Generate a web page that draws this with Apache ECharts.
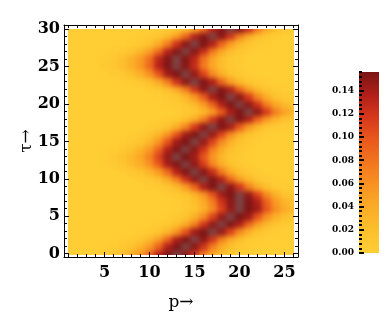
<!DOCTYPE html>
<html><head><meta charset="utf-8">
<script src="https://cdn.jsdelivr.net/npm/echarts@6/dist/echarts.min.js"></script>
<style>
html,body{margin:0;padding:0;background:#fff}
#wrap{position:relative;width:385px;height:316px}
#heat,#c{position:absolute;left:0;top:0;width:385px;height:316px}
#heat{filter:blur(2.6px);background:#FFCE35}
</style>
</head><body><div id="wrap"><div id="heat"></div><div id="c"></div></div>
<script>
// ---- data ----
const pValues = [1,2,3,4,5,6,7,8,9,10,11,12,13,14,15,16,17,18,19,20,21,22,23,24,25,26];
const tauValues = [0,1,2,3,4,5,6,7,8,9,10,11,12,13,14,15,16,17,18,19,20,21,22,23,24,25,26,27,28,29,30];
// density[i][j] : value at tau = tauValues[i], p = pValues[j]
const density = [
 [.002,.002,.002,.002,.005,.012,.023,.037,.057,.091,.136,.154,.160,.149,.120,.072,.040,.019,.009,.004,.002,.002,.002,.002,.002,.002],
 [.002,.002,.002,.002,.002,.004,.009,.017,.032,.054,.091,.136,.154,.160,.149,.120,.072,.040,.019,.009,.004,.002,.002,.002,.002,.002],
 [.002,.002,.002,.002,.002,.002,.003,.006,.012,.026,.051,.090,.136,.154,.160,.149,.120,.072,.040,.019,.009,.004,.002,.002,.002,.002],
 [.002,.002,.002,.002,.002,.002,.002,.002,.003,.007,.014,.030,.057,.100,.142,.155,.160,.146,.110,.064,.035,.016,.008,.003,.002,.002],
 [.002,.002,.002,.002,.002,.002,.002,.002,.002,.002,.004,.009,.019,.040,.072,.120,.149,.160,.154,.136,.090,.051,.026,.012,.006,.003],
 [.002,.002,.002,.002,.002,.002,.002,.002,.002,.002,.002,.003,.008,.016,.035,.064,.110,.146,.160,.155,.142,.100,.059,.035,.020,.009],
 [.002,.002,.002,.002,.002,.002,.002,.002,.002,.002,.002,.002,.003,.008,.016,.035,.064,.110,.146,.160,.155,.142,.100,.062,.040,.026],
 [.002,.002,.002,.002,.002,.002,.002,.002,.002,.002,.002,.002,.004,.009,.019,.040,.072,.120,.149,.160,.154,.136,.091,.054,.032,.017],
 [.002,.002,.002,.002,.002,.002,.002,.002,.002,.002,.002,.003,.007,.014,.030,.057,.100,.142,.155,.160,.146,.110,.064,.035,.016,.008],
 [.002,.002,.002,.002,.002,.002,.002,.002,.002,.003,.006,.012,.026,.051,.090,.136,.154,.160,.149,.120,.072,.040,.019,.009,.004,.002],
 [.002,.002,.002,.002,.002,.002,.002,.002,.004,.009,.019,.040,.072,.120,.149,.160,.154,.136,.090,.051,.026,.012,.006,.003,.002,.002],
 [.002,.002,.002,.002,.002,.002,.003,.008,.016,.030,.051,.086,.133,.153,.160,.151,.125,.076,.042,.021,.010,.005,.002,.002,.002,.002],
 [.002,.002,.002,.002,.003,.006,.012,.024,.039,.060,.096,.139,.154,.160,.148,.115,.068,.037,.017,.008,.004,.002,.002,.002,.002,.002],
 [.002,.002,.002,.002,.003,.008,.015,.028,.044,.068,.110,.146,.160,.155,.142,.100,.057,.030,.014,.007,.003,.002,.002,.002,.002,.002],
 [.002,.002,.002,.002,.002,.004,.009,.017,.032,.054,.091,.136,.154,.160,.149,.120,.072,.040,.019,.009,.004,.002,.002,.002,.002,.002],
 [.002,.002,.002,.002,.002,.002,.003,.007,.014,.030,.057,.100,.142,.155,.160,.146,.110,.064,.035,.016,.008,.003,.002,.002,.002,.002],
 [.002,.002,.002,.002,.002,.002,.002,.003,.007,.014,.030,.057,.100,.142,.155,.160,.146,.110,.064,.035,.016,.008,.003,.002,.002,.002],
 [.002,.002,.002,.002,.002,.002,.002,.002,.002,.004,.009,.018,.037,.068,.115,.148,.160,.154,.139,.095,.054,.028,.013,.007,.003,.002],
 [.002,.002,.002,.002,.002,.002,.002,.002,.002,.002,.002,.004,.009,.019,.040,.072,.120,.149,.160,.154,.136,.091,.054,.032,.017,.009],
 [.002,.002,.002,.002,.002,.002,.002,.002,.002,.002,.002,.002,.003,.007,.013,.028,.054,.095,.139,.154,.160,.148,.115,.072,.046,.030],
 [.002,.002,.002,.002,.002,.002,.002,.002,.002,.002,.002,.003,.006,.012,.026,.051,.090,.136,.154,.160,.149,.120,.073,.044,.025,.013],
 [.002,.002,.002,.002,.002,.002,.002,.002,.002,.002,.003,.007,.013,.028,.054,.095,.139,.154,.160,.148,.115,.068,.037,.017,.008,.004],
 [.002,.002,.002,.002,.002,.002,.002,.002,.002,.004,.009,.019,.040,.072,.120,.149,.160,.154,.136,.090,.051,.026,.012,.006,.003,.002],
 [.002,.002,.002,.002,.002,.002,.002,.004,.009,.019,.040,.072,.120,.149,.160,.154,.136,.090,.051,.026,.012,.006,.003,.002,.002,.002],
 [.002,.002,.002,.002,.002,.005,.009,.020,.035,.059,.100,.142,.155,.160,.146,.110,.064,.035,.016,.008,.003,.002,.002,.002,.002,.002],
 [.002,.002,.002,.002,.005,.011,.021,.036,.055,.087,.133,.153,.160,.151,.125,.076,.042,.021,.010,.005,.002,.002,.002,.002,.002,.002],
 [.002,.002,.002,.002,.004,.010,.020,.034,.052,.082,.130,.152,.160,.152,.130,.080,.045,.022,.010,.005,.002,.002,.002,.002,.002,.002],
 [.002,.002,.002,.002,.002,.004,.008,.016,.030,.051,.086,.133,.153,.160,.151,.125,.076,.042,.021,.010,.005,.002,.002,.002,.002,.002],
 [.002,.002,.002,.002,.002,.002,.002,.004,.009,.019,.040,.072,.120,.149,.160,.154,.136,.090,.051,.026,.012,.006,.003,.002,.002,.002],
 [.002,.002,.002,.002,.002,.002,.002,.002,.003,.006,.012,.026,.051,.090,.136,.154,.160,.149,.120,.072,.040,.019,.009,.004,.002,.002],
 [.002,.002,.002,.002,.002,.002,.002,.002,.002,.002,.003,.006,.011,.024,.048,.085,.133,.153,.160,.151,.125,.076,.042,.021,.010,.005]
];
const xTickLabels = [5,10,15,20,25];
const xMinorTicks = [1,2,3,4,6,7,8,9,11,12,13,14,16,17,18,19,21,22,23,24,26];
const yTickLabels = [0,5,10,15,20,25,30];
const yMinorTicks = [1,2,3,4,6,7,8,9,11,12,13,14,16,17,18,19,21,22,23,24,26,27,28,29];
const barTickLabels = [0,0.02,0.04,0.06,0.08,0.10,0.12,0.14];
const barMax = 0.156;
const xName = 'p→';
const yName = 'τ→';

// ---- build ----
const cells = [];
tauValues.forEach((t, i) => pValues.forEach((p, j) => cells.push([p, t, density[i][j]])));
const P_LO = Math.min(...pValues), P_HI = Math.max(...pValues);
const T_LO = Math.min(...tauValues), T_HI = Math.max(...tauValues);
const barMinor = [];
for (let k = 0; k * 0.004 <= barMax + 1e-9; k++) barMinor.push(+(k * 0.004).toFixed(3));

const SERIF = 'DejaVu Serif';
const black = '#000';
const GRID_MAIN = {left: 64, top: 25, width: 234, height: 233};
const GRID_BAR = {left: 359, top: 72, width: 20, height: 181};
const X_RANGE = {min: 0.5, max: 26.5};
const Y_RANGE = {min: -0.45, max: 30.55};
const colorStops = ['#FFCE35','#FDC02D','#FBAC27','#F89322','#F2761E','#E9581C','#D6381C','#B01F19','#7A1414'];
const saturatedColor = '#7f4242';

// ---- layer 1: density cells (softened like the interpolated original) ----
const heat = echarts.init(document.getElementById('heat'), null, {renderer: 'canvas'});
heat.setOption({
  animation: false,
  grid: Object.assign({}, GRID_MAIN),
  xAxis: Object.assign({type: 'value', show: false}, X_RANGE),
  yAxis: Object.assign({type: 'value', show: false}, Y_RANGE),
  visualMap: {
    type: 'continuous', show: false, seriesIndex: 0, dimension: 2,
    min: 0, max: barMax, range: [0, 0.1559],
    inRange: {color: colorStops}, outOfRange: {color: saturatedColor}
  },
  series: [{
    type: 'custom', data: cells, encode: {x: 0, y: 1},
    renderItem: (params, api) => {
      const p = api.value(0), t = api.value(1);
      const xl = p === P_LO ? p - 1.5 : p - 0.5, xr = p === P_HI ? p + 1.5 : p + 0.5;
      const yb = t === T_LO ? t - 1.5 : t - 0.5, yt = t === T_HI ? t + 1.5 : t + 0.5;
      const a = api.coord([xl, yt]), b = api.coord([xr, yb]);
      const x0 = Math.round(a[0]), y0 = Math.round(a[1]);
      const x1 = Math.round(b[0]), y1 = Math.round(b[1]);
      return {type: 'rect', shape: {x: x0, y: y0, width: x1 - x0, height: y1 - y0},
        style: {fill: api.visual('color')}};
    }
  }]
});
const tl = heat.convertToPixel({gridIndex: 0}, [P_LO, T_HI]);
const br = heat.convertToPixel({gridIndex: 0}, [P_HI, T_LO]);
document.getElementById('heat').style.clipPath =
  `inset(${tl[1]}px ${385 - br[0]}px ${316 - br[1]}px ${tl[0]}px)`;

// ---- layer 2: frame, ticks, labels, colour bar ----
function frameAxis(extra) {
  return Object.assign({
    type: 'value', splitLine: {show: false},
    axisLine: {show: false, onZero: false, lineStyle: {color: black, width: 1}},
    axisTick: {show: false}, axisLabel: {show: false}
  }, extra);
}
const xBase = Object.assign({gridIndex: 0}, X_RANGE);
const yBase = Object.assign({gridIndex: 0}, Y_RANGE);
const labelFont = {fontFamily: SERIF, fontWeight: 'bold', fontSize: 16, color: black};

const option = {
  animation: false,
  backgroundColor: 'transparent',
  grid: [Object.assign({}, GRID_MAIN), Object.assign({}, GRID_BAR)],
  xAxis: [
    frameAxis(Object.assign({}, xBase, {position: 'bottom',
      axisLine: {show: true, onZero: false, lineStyle: {color: black, width: 1}},
      axisTick: {show: true, inside: true, length: 5, customValues: xTickLabels, lineStyle: {color: black}},
      axisLabel: Object.assign({show: true, customValues: xTickLabels, margin: 8}, labelFont),
      name: xName, nameLocation: 'middle', nameGap: 37, nameMoveOverlap: false,
      nameTextStyle: {fontFamily: SERIF, fontSize: 17, color: black}})),
    frameAxis(Object.assign({}, xBase, {position: 'bottom',
      axisTick: {show: true, inside: true, length: 3, customValues: xMinorTicks, lineStyle: {color: black}}})),
    frameAxis(Object.assign({}, xBase, {position: 'top',
      axisLine: {show: true, onZero: false, lineStyle: {color: black, width: 1}},
      axisTick: {show: true, inside: true, length: 5, customValues: xTickLabels, lineStyle: {color: black}}})),
    frameAxis(Object.assign({}, xBase, {position: 'top',
      axisTick: {show: true, inside: true, length: 3, customValues: xMinorTicks, lineStyle: {color: black}}})),
    {type: 'value', gridIndex: 1, show: false, min: 0, max: 1}
  ],
  yAxis: [
    frameAxis(Object.assign({}, yBase, {position: 'left',
      axisLine: {show: true, onZero: false, lineStyle: {color: black, width: 1}},
      axisTick: {show: true, inside: true, length: 5, customValues: yTickLabels, lineStyle: {color: black}},
      axisLabel: Object.assign({show: true, customValues: yTickLabels, margin: 4}, labelFont),
      name: yName, nameLocation: 'middle', nameGap: 29, nameMoveOverlap: false,
      nameTextStyle: {fontFamily: SERIF, fontSize: 17, color: black}})),
    frameAxis(Object.assign({}, yBase, {position: 'left',
      axisTick: {show: true, inside: true, length: 3, customValues: yMinorTicks, lineStyle: {color: black}}})),
    frameAxis(Object.assign({}, yBase, {position: 'right',
      axisLine: {show: true, onZero: false, lineStyle: {color: black, width: 1}},
      axisTick: {show: true, inside: true, length: 5, customValues: yTickLabels, lineStyle: {color: black}}})),
    frameAxis(Object.assign({}, yBase, {position: 'right',
      axisTick: {show: true, inside: true, length: 3, customValues: yMinorTicks, lineStyle: {color: black}}})),
    {type: 'value', gridIndex: 1, min: 0, max: barMax, position: 'left', z: 10,
      splitLine: {show: false}, axisLine: {show: false},
      axisTick: {show: true, inside: true, length: 5, customValues: barTickLabels, lineStyle: {color: black, width: 2}},
      axisLabel: {show: true, customValues: barTickLabels, margin: 5, color: black,
        fontFamily: SERIF, fontWeight: 'bold', fontSize: 9, formatter: v => v.toFixed(2)}},
    {type: 'value', gridIndex: 1, min: 0, max: barMax, position: 'left', z: 10,
      splitLine: {show: false}, axisLine: {show: false}, axisLabel: {show: false},
      axisTick: {show: true, inside: true, length: 3, customValues: barMinor, lineStyle: {color: black, width: 2}}}
  ],
  series: []
};
const chart = echarts.init(document.getElementById('c'), null, {renderer: 'canvas'});
chart.setOption(option);
// colour bar: a square gradient strip spanning the bar axis from 0 to barMax
const cb0 = chart.convertToPixel({xAxisIndex: 4, yAxisIndex: 4}, [0, 0]);
const cb1 = chart.convertToPixel({xAxisIndex: 4, yAxisIndex: 4}, [1, barMax]);
chart.setOption({
  graphic: [{
    type: 'rect', z: 1,
    shape: {x: cb0[0], y: cb1[1], width: cb1[0] - cb0[0], height: cb0[1] - cb1[1]},
    style: {fill: new echarts.graphic.LinearGradient(0, 1, 0, 0,
      colorStops.map((c, i) => ({offset: i / (colorStops.length - 1), color: c})))}
  }]
});
</script>
</body></html>
